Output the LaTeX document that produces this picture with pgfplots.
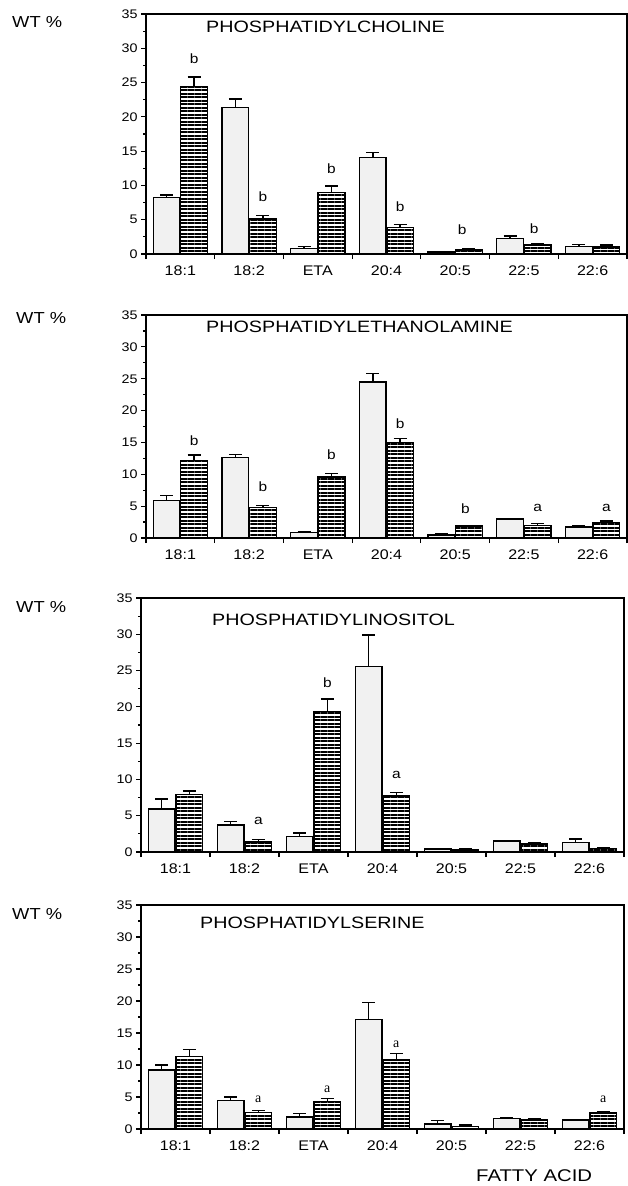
\documentclass[border=0pt]{standalone}
\usepackage{fontspec}
\setmainfont{Liberation Sans}[FakeStretch=1.15]
\newfontfamily\titlefont{Liberation Sans}[FakeStretch=1.2]
\newfontfamily\serifletter{Liberation Serif}
\usepackage{pgfplots}
\pgfplotsset{compat=1.18}
\usepackage{pgfplotstable}
\usetikzlibrary{patterns.meta}

% x: fatty acid index, w/we: open bar and error, h/he: hatched bar and error
\pgfplotstableread{
x w we h he
0 8.2 0.4 24.4 1.4
1 21.4 1.2 5.1 0.5
2 0.8 0.3 9.0 0.9
3 14.1 0.7 3.9 0.4
4 0.3 0.1 0.6 0.1
5 2.3 0.3 1.3 0.2
6 1.1 0.3 1.0 0.3
}\pcdata
\pgfplotstableread{
x w we h he
0 5.9 0.8 12.2 0.8
1 12.6 0.5 4.8 0.3
2 0.9 0.1 9.6 0.5
3 24.5 1.3 15.0 0.6
4 0.5 0.1 1.9 0.1
5 3.0 0.05 2.0 0.3
6 1.7 0.2 2.4 0.3
}\pedata
\pgfplotstableread{
x w we h he
0 5.9 1.4 7.9 0.5
1 3.7 0.5 1.4 0.3
2 2.1 0.5 19.4 1.7
3 25.6 4.3 7.7 0.5
4 0.4 0.1 0.3 0.1
5 1.5 0.05 1.1 0.2
6 1.3 0.5 0.5 0.1
}\pidata
\pgfplotstableread{
x w we h he
0 9.2 0.8 11.3 1.1
1 4.5 0.5 2.6 0.3
2 1.9 0.5 4.3 0.5
3 17.1 2.7 10.8 1.0
4 0.8 0.5 0.4 0.2
5 1.6 0.2 1.4 0.2
6 1.4 0.05 2.5 0.25
}\psdata

\tikzset{
  letter/.style={font=\fontsize{13.5}{15}\selectfont},
  sletter/.style={font=\serifletter\fontsize{14}{16}\selectfont},
}
\pgfplotsset{
  panel/.style={
    scale only axis, anchor=south west,
    xmin=-0.5, xmax=6.5, ymin=0, ymax=35,
    xtick={-0.5,0.5,...,6.5},
    xticklabels={18:1,18:2,ETA,20:4,20:5,22:5,22:6},
    x tick label as interval,
    ytick={0,5,...,35}, minor y tick num=1,
    tick align=outside, xtick pos=bottom, ytick pos=left,
    major tick length=5bp, minor tick length=3bp,
    axis line style={line width=1.6bp},
    every tick/.style={line width=1.2bp, black},
    /pgf/number format/assume math mode=true,
    yticklabel style={font=\fontsize{12.5}{14}\selectfont},
    xticklabel style={font=\fontsize{14}{16}\selectfont, yshift=-3bp},
  },
  barbase/.style={ybar, bar width=0.39, bar shift=0, draw=black, line width=1.4bp,
    /pgfplots/error bars/y dir=plus, /pgfplots/error bars/y explicit,
    /pgfplots/error bars/error bar style={line width=1.5bp, black, solid},
    /pgfplots/error bars/error mark options={rotate=90, mark size=6.5bp, line width=1.5bp, black}},
  wbar/.style={barbase, fill=gray!11},
  hbar/.style={barbase,
    pattern={Lines[angle=0,distance=3.5bp,line width=2bp]}, pattern color=black},
}

\begin{document}
\begin{tikzpicture}
\useasboundingbox (0,0) rectangle (628bp,-1186bp);

\begin{axis}[panel, at={(146bp,-254bp)}, width=481bp, height=240bp]
\addplot[wbar] table[x expr=\thisrow{x}-0.2, y=w, y error=we] {\pcdata};
\addplot[hbar] table[x expr=\thisrow{x}+0.2, y=h, y error=he] {\pcdata};
\node[letter] at (axis cs:0.2,28.5) {b};
\node[letter] at (axis cs:1.2,8.4) {b};
\node[letter] at (axis cs:2.2,12.5) {b};
\node[letter] at (axis cs:3.2,6.9) {b};
\node[letter] at (axis cs:4.1,3.5) {b};
\node[letter] at (axis cs:5.15,3.7) {b};
\end{axis}

\begin{axis}[panel, at={(146bp,-538bp)}, width=481bp, height=223bp]
\addplot[wbar] table[x expr=\thisrow{x}-0.2, y=w, y error=we] {\pedata};
\addplot[hbar] table[x expr=\thisrow{x}+0.2, y=h, y error=he] {\pedata};
\node[letter] at (axis cs:0.2,15.3) {b};
\node[letter] at (axis cs:1.2,8.0) {b};
\node[letter] at (axis cs:2.2,13.1) {b};
\node[letter] at (axis cs:3.2,17.9) {b};
\node[letter] at (axis cs:4.15,4.6) {b};
\node[letter] at (axis cs:5.2,4.7) {a};
\node[letter] at (axis cs:6.2,4.7) {a};
\end{axis}

\begin{axis}[panel, at={(141bp,-852bp)}, width=483bp, height=254bp]
\addplot[wbar] table[x expr=\thisrow{x}-0.2, y=w, y error=we] {\pidata};
\addplot[hbar] table[x expr=\thisrow{x}+0.2, y=h, y error=he] {\pidata};
\node[letter] at (axis cs:1.2,4.3) {a};
\node[letter] at (axis cs:2.2,23.3) {b};
\node[letter] at (axis cs:3.2,10.6) {a};
\end{axis}

\begin{axis}[panel, at={(141bp,-1129bp)}, width=483bp, height=224bp]
\addplot[wbar] table[x expr=\thisrow{x}-0.2, y=w, y error=we] {\psdata};
\addplot[hbar] table[x expr=\thisrow{x}+0.2, y=h, y error=he] {\psdata};
\node[sletter] at (axis cs:1.2,4.6) {a};
\node[sletter] at (axis cs:2.2,6.2) {a};
\node[sletter] at (axis cs:3.2,13.3) {a};
\node[sletter] at (axis cs:6.2,4.7) {a};
\end{axis}

% panel titles and axis captions
\begin{scope}[every node/.style={anchor=west, inner sep=0pt}]
\node[font=\fontsize{16}{18}\selectfont] at (12bp,-22bp) {WT \%};
\node[font=\fontsize{16}{18}\selectfont] at (16bp,-318bp) {WT \%};
\node[font=\fontsize{16}{18}\selectfont] at (16bp,-607bp) {WT \%};
\node[font=\fontsize{16}{18}\selectfont] at (12bp,-914bp) {WT \%};
\node[font=\titlefont\fontsize{16.5}{18}\selectfont] at (206bp,-27bp) {PHOSPHATIDYLCHOLINE};
\node[font=\titlefont\fontsize{16.5}{18}\selectfont] at (206bp,-327bp) {PHOSPHATIDYLETHANOLAMINE};
\node[font=\titlefont\fontsize{16.5}{18}\selectfont] at (212bp,-620bp) {PHOSPHATIDYLINOSITOL};
\node[font=\titlefont\fontsize{16.5}{18}\selectfont] at (200bp,-923bp) {PHOSPHATIDYLSERINE};
\node[font=\titlefont\fontsize{17}{19}\selectfont] at (476bp,-1176bp) {FATTY ACID};
\end{scope}
\end{tikzpicture}
\end{document}
